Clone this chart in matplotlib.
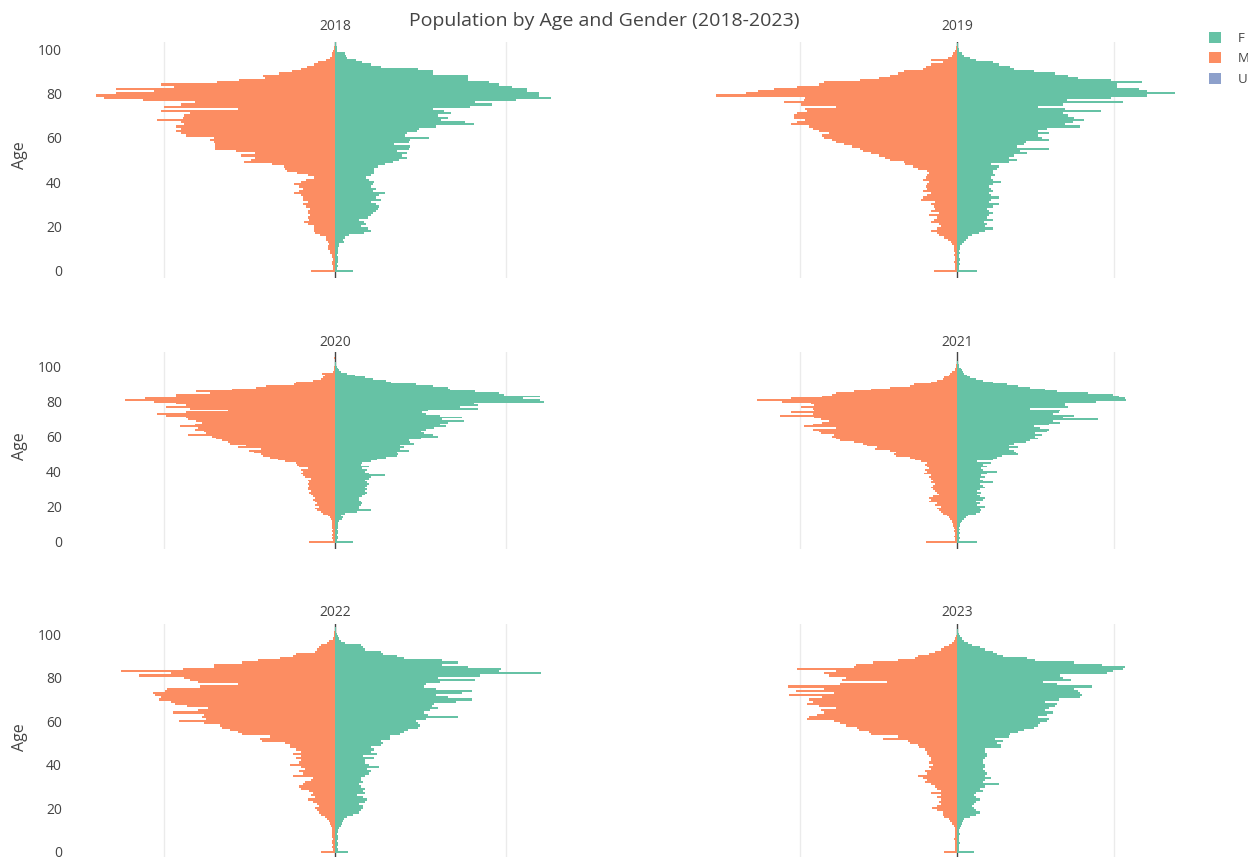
import matplotlib
matplotlib.use("Agg")
import matplotlib.pyplot as plt
from matplotlib.patches import Patch

plt.rcParams['font.family'] = ['Open Sans', 'DejaVu Sans']

# ---------------- data ----------------
years = [2018, 2019, 2020, 2021, 2022, 2023]
genders = ["F", "M", "U"]
gender_colors = {"F": "#66c2a5", "M": "#fc8d62", "U": "#8da0cb"}

f_2018 = [10.5, 1, 1.5, 1, 2, 1.8, 1.5, 1, 2, 1.5,
          2, 2.5, 2.5, 5, 4.5, 6, 8, 17, 21, 19,
          15, 18, 17, 14, 19, 21, 22, 24, 25, 26,
          24, 21, 27, 24, 26, 29, 22, 24, 21, 22,
          23, 20, 18, 21, 23, 23, 23, 25, 29, 34,
          37.5, 42, 39, 42, 36.5, 43, 44, 34.6, 43, 44,
          55, 41, 42, 48, 49, 59, 81, 76, 62, 66,
          60, 68, 64, 57, 79, 92, 82, 106, 126, 119,
          119, 112, 112, 103.5, 96, 90, 78, 78, 78, 57,
          57, 48.5, 27, 21, 16, 12, 7.3, 6.3, 6, 1.4,
          1.4, 1, 0.5, 0.3]
m_2018 = [14, 1, 1, 1.5, 2, 1, 2, 2, 3, 3,
          4, 4, 3.5, 4, 5, 5.5, 9, 11.5, 12, 12,
          12, 16, 18, 15, 16, 14.5, 15.5, 16, 14.5, 17,
          18.5, 16, 19, 19, 20, 24, 21, 18.5, 21, 24,
          20, 17, 12.5, 16, 22, 28, 29, 30, 37, 53,
          49, 47, 55, 47, 58, 70, 70, 70, 71, 73,
          71, 87, 90, 93, 90, 93, 88, 90, 104, 89,
          88, 85, 102, 57, 100, 90, 82, 112, 135, 140,
          128, 106, 128, 94, 102, 69, 56, 41, 42, 33,
          25, 20, 16.5, 12, 9.7, 5, 3, 2, 1.5, 1,
          0.5, 0.3, 0.2, 0.1]

f_2019 = [13, 1.5, 1, 2, 1.5, 2, 1, 1.5, 2, 1.5,
          2, 2, 3, 4.5, 5.7, 7, 9.4, 14, 18, 23,
          18, 19, 17, 23, 19, 20.5, 23, 20.5, 19, 23,
          26.7, 20.5, 22, 26.7, 22, 20.5, 23, 22, 20.5, 23,
          28, 23, 22, 24, 23, 23, 25.5, 26.7, 22, 33,
          38, 33, 36.6, 45, 40, 59, 38, 43, 44, 59,
          54, 51.5, 59, 51.5, 57.7, 78.7, 68.8, 73.8, 81, 75,
          71, 67.5, 92, 68.8, 51.5, 67.5, 106, 70, 98.5, 121,
          139, 121, 116, 102, 102, 118, 98.5, 77.5, 71, 62.6,
          49, 36.6, 34, 26.7, 23, 12, 8, 4.5, 3, 1.5,
          1, 0.5, 0.5, 0.3]
m_2019 = [15, 1, 1.5, 1, 2, 1.5, 1, 2, 1.5, 2,
          2, 2, 3, 4, 5.5, 8, 11.6, 13, 16.5, 13,
          10, 11.6, 16.5, 15, 13, 18, 11.6, 16.5, 14, 15,
          16.5, 14, 23, 21.5, 19, 16.5, 21.5, 19, 20, 19,
          18, 21.5, 20, 19, 18, 19, 25, 28, 33, 34,
          42.5, 46, 50, 55, 60, 62, 67, 72, 77, 80,
          85, 86, 82, 88, 92, 94.5, 105.7, 102, 97, 104,
          104, 102, 96, 97, 77, 99.5, 110.6, 98, 97, 154,
          135, 127, 117, 102, 88, 85, 62, 50, 42.5, 37.6,
          34, 21.5, 20, 16.5, 9, 16.5, 5.5, 3, 2.5, 1,
          0.5, 0.5, 0.3, 0.2]

f_2020 = [10.4, 1, 1.5, 2, 1, 1.5, 2, 1, 1.5, 2,
          1.5, 2, 2.5, 4, 4.6, 3.5, 5.8, 12.8, 21, 14,
          14, 15, 16, 15, 14, 14, 16, 17.4, 18.6, 17.4,
          18.6, 17.4, 18.6, 19.7, 18.6, 17.4, 19.7, 21, 29, 19.7,
          17.4, 18.6, 16, 19.7, 15, 16, 21, 24.4, 30, 36,
          37, 36, 43, 38, 40.6, 38, 46.4, 44, 43, 50,
          60, 57, 52, 50, 53, 58, 65, 61.5, 66, 75.4,
          62.6, 74, 61.5, 53, 51, 54.5, 83.5, 73, 83.5, 81,
          122, 120, 110, 120, 98.6, 96, 82, 67, 66, 57,
          47.6, 32.5, 30, 22, 17.4, 11.6, 7, 3.5, 2.3, 1.6,
          1, 0.5, 0.3, 0.2, 0.1, 0.1]
m_2020 = [15, 1, 1.5, 1, 2, 1, 1.5, 1, 2, 1.5,
          2, 1.5, 2, 2.3, 3, 4, 7, 8, 10.4, 11.6,
          9.3, 11.6, 10.4, 11.6, 12.8, 11.6, 12.8, 14, 15, 14,
          15.5, 16, 15, 16, 15, 16, 14, 17.4, 18.6, 20,
          18.6, 20, 16, 21, 22, 23, 29, 33.6, 38, 42,
          43, 47.6, 50, 43, 57, 52, 61.5, 62.6, 66, 69.6,
          72, 86, 75.4, 76.6, 82, 80, 90.5, 82, 77.7, 81,
          86, 87, 98.6, 104, 87, 62.6, 84.7, 98.6, 87, 92.8,
          105.6, 123, 111, 92.8, 92.8, 73, 81, 60, 46.4, 40.6,
          24, 23, 12.8, 8, 7, 5.8, 7.7, 1.2, 0.5, 0.3,
          0.3, 0.2, 0.2, 0.1, 0.1, 0.3]

f_2021 = [13, 1.5, 2, 1, 1.5, 2, 1, 2, 1.5, 2,
          2, 2.5, 3.2, 4.5, 5.7, 7, 12, 14.4, 15.6, 14.4,
          18, 13, 14.4, 12, 16.8, 18, 14.4, 13, 15.6, 13,
          14.4, 18, 16.8, 14.4, 23, 16.8, 14.4, 18, 15.6, 19.3,
          25.5, 16.8, 15.6, 19.3, 16.8, 21.8, 13, 23, 25.5, 29,
          39, 37.9, 36.6, 33, 39, 33, 36.6, 44, 46.5, 51.5,
          50, 54, 50, 57.7, 59, 52.7, 49, 59, 66, 61.4,
          90, 67.6, 75, 61.4, 65, 66, 46.5, 71, 68.8, 68.8,
          88.6, 108, 107, 103.5, 99.8, 83.7, 64, 56.4, 46.5, 39,
          31.7, 23, 16.8, 12, 8, 6.4, 4.5, 4, 3.2, 2.5,
          1.5, 1, 0.5, 0.5, 0.3, 0.2]
m_2021 = [20, 1, 1.5, 2, 1, 1.5, 2, 1.5, 2, 2.5,
          2.5, 3, 3.5, 4.2, 5.4, 6.7, 9, 10.4, 11.6, 13,
          10.4, 14, 13, 17.8, 16.6, 17.8, 15.3, 11.6, 13, 14,
          15.3, 16.6, 15.3, 14, 16.6, 15.3, 16.6, 17.8, 16.6, 20.8,
          19, 20.3, 17.8, 19, 20.3, 19, 22.8, 26.5, 30, 39,
          40, 39, 42.6, 52.5, 51, 57.4, 60, 66, 74.8, 77,
          79.7, 78.5, 87, 88, 92, 77, 98, 92, 86, 82,
          87, 91, 113, 92, 105.7, 91, 92, 99.5, 91, 93,
          112, 128, 105.7, 86, 79.7, 77, 66, 55, 42.6, 30,
          27.7, 16.6, 13, 9, 8, 5.4, 4.2, 3, 1, 1,
          0.8, 0.5, 0.3, 0.2, 0.1, 0.1]

f_2022 = [7.6, 1.5, 1, 2, 1.5, 1, 2, 1.5, 1, 2,
          1.5, 2.3, 3.5, 4, 4.6, 5.3, 7, 10.4, 14, 15,
          16.2, 16.2, 14, 17.4, 18.5, 16.2, 12.7, 17.4, 16.2, 17.4,
          15, 14, 16.2, 15, 15, 17.4, 19.7, 20.8, 18.5, 25.5,
          19.7, 17.4, 17.4, 23, 16.2, 24.3, 20.8, 23, 20.8, 26.6,
          27.8, 26.6, 32.4, 32.4, 38, 40.5, 42.8, 48.6, 49.8, 48.6,
          47.5, 53, 71.8, 54.4, 52, 55.6, 60, 56.7, 57.9, 70.6,
          79.9, 66, 59, 74, 79.9, 59, 52, 53, 61.3, 82,
          60, 84.5, 120.4, 96, 97.2, 77.5, 62.5, 71.8, 62.5, 40.5,
          36, 27.8, 26.6, 17.4, 16.2, 15, 5.8, 3.5, 2.3, 1.6,
          1.2, 0.5, 0.5, 0.3]
m_2022 = [8, 1, 1.5, 1, 2, 1.5, 1, 1.5, 2, 1.5,
          1.5, 1.6, 2.3, 3, 3.5, 4.6, 5.8, 8, 9.3, 10.4,
          11.6, 9.3, 10.4, 12.7, 16, 11.6, 14, 12.7, 15, 19.7,
          20.8, 18.5, 17.4, 14, 12.7, 24.3, 18.5, 20.8, 17.4, 19.7,
          26.6, 20.8, 19.7, 23, 19.7, 24.3, 19.7, 23, 26.6, 26.6,
          29, 42.8, 44, 38, 54.4, 56.7, 61.3, 66, 67, 76.4,
          91.4, 75.2, 77.5, 76.4, 95, 80, 74, 86.8, 93.7, 96,
          103, 101.8, 105, 106.5, 99.5, 98.4, 78.7, 56.7, 80, 84.5,
          88, 114.6, 96, 125, 89, 70.6, 70.6, 54.4, 45, 32.4,
          24.3, 23, 11.6, 10.4, 9.3, 8, 4.6, 3.5, 1.2, 0.8,
          0.5, 0.3, 0.2, 0.1]

f_2023 = [10.6, 1, 1.5, 1, 2, 1.5, 1, 1.5, 2, 1,
          1.5, 2, 2.5, 3.2, 4, 4.5, 8, 12, 14.4, 12,
          10.6, 9.4, 10.6, 12, 14.4, 12, 10.6, 12, 16.8, 14.4,
          18, 26.7, 16.8, 18, 21.8, 18, 19.3, 18, 16.8, 18,
          18, 16.8, 16.8, 18, 19.3, 19.3, 18, 18, 28, 28,
          25.5, 29.2, 24.3, 33, 34, 39, 42.8, 49, 51.5, 52.7,
          57.7, 59, 51.5, 57.7, 61.4, 56.4, 59, 62.6, 63.9, 56.4,
          65, 78.7, 80, 78.7, 77.5, 75, 86, 64, 55, 72.5,
          67.6, 66, 96, 99.8, 106, 107, 92.3, 75, 50, 45,
          29.2, 25.5, 23, 18, 14.4, 9.4, 7, 4.5, 3.2, 2,
          1.5, 0.5, 0.5, 0.3]
m_2023 = [8, 1, 1.5, 1, 1.5, 1, 2, 1, 1.5, 1,
          1.5, 1.5, 1.7, 3, 4.2, 5.4, 8, 9, 9, 12.9,
          15.8, 12.9, 10.4, 11.6, 10, 12.9, 10.4, 16.6, 10.4, 12.9,
          14, 16.6, 20.3, 19, 21.5, 25, 19, 20.3, 16.6, 17.8,
          15.3, 17.8, 16.6, 16.6, 17.8, 19, 19, 20.3, 24, 25.2,
          30, 31.4, 47.5, 37.6, 55, 56, 62.4, 63.6, 71, 74.8,
          78.5, 95.8, 94.6, 89.6, 84.7, 87, 77, 88.4, 95.8, 92,
          94.6, 85.9, 107, 78.5, 103, 84.7, 108, 74.8, 45, 73.5,
          71, 82, 84.7, 77, 102, 66, 64.8, 53.7, 37.6, 26.5,
          25.2, 17.8, 14, 10.4, 8, 5.4, 3, 1.7, 1, 0.5,
          0.3, 0.3, 0.2, 0.1]

female = {2018: f_2018, 2019: f_2019, 2020: f_2020, 2021: f_2021, 2022: f_2022, 2023: f_2023}
male = {2018: m_2018, 2019: m_2019, 2020: m_2020, 2021: m_2021, 2022: m_2022, 2023: m_2023}
age_ticks = [0, 20, 40, 60, 80, 100]

# ---------------- layout ----------------
W, H = 1248, 857
fig = plt.figure(figsize=(W / 100, H / 100), dpi=100)
fig.patch.set_facecolor("white")

TXT = "#444444"
col_px = [(75, 595), (697, 1217)]
col_half = [152, 166]
row_px = [(41.7, 278), (352, 549), (624, 860)]
row_ylim = [(-3.3, 103.3), (-4.2, 108.4), (-3.8, 104.7)]
title_y = [27, 342, 613]
centers = [335, 957]

for i, yr in enumerate(years):
    r, c = divmod(i, 2)
    x0, x1 = col_px[c]
    y0, y1 = row_px[r]
    ax = fig.add_axes([x0 / W, 1 - y1 / H, (x1 - x0) / W, (y1 - y0) / H])
    ax.patch.set_alpha(0)
    fv = female[yr]
    mv = male[yr]
    ax.barh(list(range(len(fv))), fv, height=1.0, color=gender_colors["F"],
            linewidth=0, zorder=2)
    ax.barh(list(range(len(mv))), [-v for v in mv], height=1.0,
            color=gender_colors["M"], linewidth=0, zorder=2)
    h = col_half[c]
    ax.set_xlim(-h, h)
    ax.set_ylim(*row_ylim[r])
    for g in (-100, 100):
        ax.axvline(g, color="#ebebeb", lw=1, zorder=0)
    ax.axvline(0, color=TXT, lw=1, zorder=1)
    for s in ax.spines.values():
        s.set_visible(False)
    ax.set_xticks([])
    if c == 0:
        ax.set_yticks(age_ticks)
        ax.tick_params(axis="y", length=0, pad=9.5, labelsize=10, labelcolor=TXT)
        ax.set_ylabel("Age", fontsize=11.5, color=TXT)
        ax.yaxis.set_label_coords(-0.09, 0.52)
    else:
        ax.set_yticks([])
    fig.text(centers[c] / W, 1 - title_y[r] / H, str(yr), ha="center", va="center",
             fontsize=10, color=TXT)

fig.text(604 / W, 1 - 21 / H, "Population by Age and Gender (2018-2023)",
         ha="center", va="center", fontsize=14, color=TXT)

handles = [Patch(facecolor=gender_colors[g], edgecolor="none", label=g) for g in genders]
fig.legend(handles=handles, loc="upper left", bbox_to_anchor=(1209 / W, 1 - 32 / H),
           frameon=False, fontsize=9.5, labelcolor=TXT, handlelength=0.9,
           handleheight=0.9, handletextpad=1.3, labelspacing=0.55, borderaxespad=0,
           borderpad=0)

fig.savefig("out.png", dpi=100, facecolor="white")
